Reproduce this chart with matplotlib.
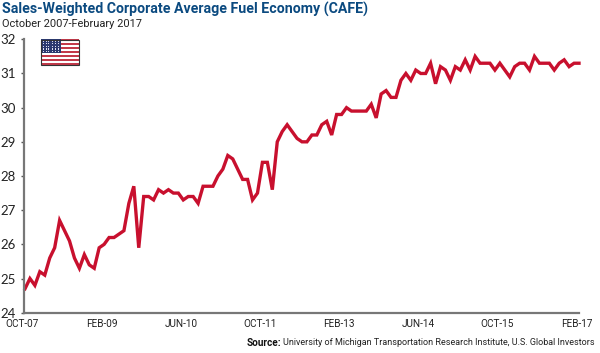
import matplotlib
matplotlib.use('Agg')
import matplotlib.pyplot as plt
import matplotlib.patches as patches
import matplotlib.transforms as mtrans

# Dados (mensal, out/2007 a fev/2017)
cafe = [24.7, 25.0, 24.8, 25.2, 25.1, 25.6, 25.9, 26.7, 26.4, 26.1, 25.6, 25.3, 25.7, 25.4, 25.3, 25.9,
        26.0, 26.2, 26.2, 26.3, 26.4, 27.2, 27.7, 25.9, 27.4, 27.4, 27.3, 27.6, 27.5, 27.6, 27.5, 27.5,
        27.3, 27.4, 27.4, 27.2, 27.7, 27.7, 27.7, 28.0, 28.2, 28.6, 28.5, 28.2, 27.9, 27.9, 27.3, 27.5,
        28.4, 28.4, 27.6, 29.0, 29.3, 29.5, 29.3, 29.1, 29.0, 29.0, 29.2, 29.2, 29.5, 29.6, 29.2, 29.8,
        29.8, 30.0, 29.9, 29.9, 29.9, 29.9, 30.1, 29.7, 30.4, 30.5, 30.3, 30.3, 30.8, 31.0, 30.8, 31.1,
        31.0, 31.0, 31.3, 30.7, 31.2, 31.1, 30.8, 31.2, 31.1, 31.4, 31.1, 31.5, 31.3, 31.3, 31.3, 31.1,
        31.3, 31.1, 30.9, 31.2, 31.3, 31.3, 31.1, 31.5, 31.3, 31.3, 31.3, 31.1, 31.3, 31.4, 31.2, 31.3,
        31.3]
rotulos_x = ['OCT-07', 'FEB-09', 'JUN-10', 'OCT-11', 'FEB-13', 'JUN-14', 'OCT-15', 'FEB-17']
rotulos_y = [24, 25, 26, 27, 28, 29, 30, 31, 32]

W, H = 600, 353
fig = plt.figure(figsize=(W / 100, H / 100), dpi=100, facecolor='white')

# eixo em pixels: x=23 a 579, y=39.3 (32) a 312.7 (24)
ax = fig.add_axes([23.5 / W, 1 - 312.7 / H, (579 - 23.5) / W, (312.7 - 39.3) / H])
posicoes = list(range(len(cafe)))
ax.plot(posicoes, cafe, color='#c8102e', linewidth=2.4, solid_joinstyle='miter', clip_on=False)

ax.set_ylim(24, 32)
ax.set_xlim(-0.3, 112)
ax.set_yticks(rotulos_y)
ax.set_yticklabels(rotulos_y, fontsize=9.5, family='Lato', color='#222222')
ax.set_xticks(posicoes[::16])
ax.set_xticklabels(rotulos_x, fontsize=7.2, family='Roboto', color='#222222')
ax.tick_params(axis='x', length=0, pad=4.5)
ax.tick_params(axis='y', length=2.5, width=1, color='#555555', pad=3.2)
for lab in ax.get_xticklabels():
    lab.set_transform(lab.get_transform() + mtrans.ScaledTranslation(-2.5 / 100, 0, fig.dpi_scale_trans))

for lado in ['top', 'right']:
    ax.spines[lado].set_visible(False)
for lado in ['left', 'bottom']:
    ax.spines[lado].set_color('#777777')
    ax.spines[lado].set_linewidth(1.6)

# Títulos
fig.text(2 / W, 1 - 9 / H, 'Sales-Weighted Corporate Average Fuel Economy (CAFE)', fontsize=10.2, fontweight='bold',
         family='Roboto', color='#0b4a80', va='center', ha='left')
fig.text(2 / W, 1 - 24 / H, 'October 2007-February 2017', fontsize=7.95, family='Roboto', color='#222222',
         va='center', ha='left')
fig.text(595 / W, 1 - 342.7 / H, 'University of Michigan Transportation Research Institute, U.S. Global Investors',
         fontsize=6.5, family='Roboto', color='#222222', va='center', ha='right')
fig.text(247 / W, 1 - 342.7 / H, 'Source:', fontsize=7.2, family='Roboto', fontweight='bold', color='#111111',
         va='center', ha='left')

# Bandeira
fx0, fy0, fw, fh = 41, 39.5, 38, 25.5
def ret(x, y, w, h, cor):
    fig.add_artist(patches.Rectangle((x / W, 1 - (y + h) / H), w / W, h / H, transform=fig.transFigure,
                                     facecolor=cor, edgecolor='none'))
ret(fx0, fy0, fw, fh, 'white')
for i in range(13):
    if i % 2 == 0:
        ret(fx0, fy0 + i * fh / 13, fw, fh / 13, '#c23a4a')
ret(fx0, fy0, 19.5, fh * 7 / 13, '#2c3a70')
for lin in range(5):
    for col in range(6):
        ret(fx0 + 1.5 + col * 3, fy0 + 1.2 + lin * 2.6, 1, 1, '#dde0ee')
fig.add_artist(patches.Rectangle((fx0 / W, 1 - (fy0 + fh) / H), fw / W, fh / H, transform=fig.transFigure,
                                 facecolor='none', edgecolor='#333333', linewidth=0.8))

fig.savefig('out.png', dpi=100, facecolor='white')
